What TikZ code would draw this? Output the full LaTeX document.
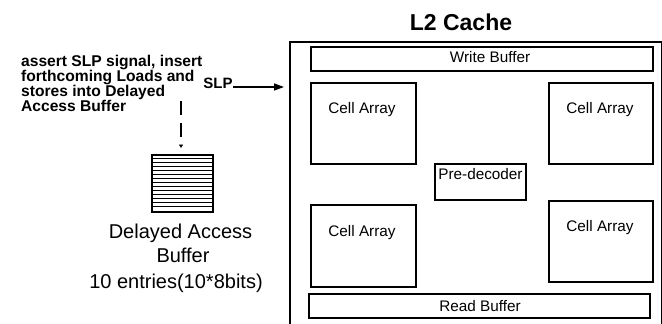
\documentclass[tikz,border=0pt]{standalone}
\usepackage{fontspec}
\setmainfont{Liberation Sans}
\usetikzlibrary{arrows.meta}
\begin{document}
\begin{tikzpicture}[x=1pt,y=-1pt,
  blk/.style={draw,line width=1.5pt,inner sep=0pt,anchor=north west},
  lbl/.style={inner sep=0pt,font=\fontsize{15.3}{18}\selectfont},
  biglbl/.style={inner sep=0pt,font=\fontsize{20}{22}\selectfont},
  boldlbl/.style={inner sep=0pt,font=\bfseries\fontsize{15}{15}\selectfont},
  notelbl/.style={inner sep=0pt,font=\bfseries\fontsize{15.6}{15.1}\selectfont},
  conn/.style={line width=1.4pt}]
\useasboundingbox (0,0) rectangle (662,324);
% title
\node[inner sep=0pt,font=\bfseries\fontsize{23}{26}\selectfont] (title) at (461,22) {L2 Cache};
% outer cache box (runs off the bottom)
\node[blk,minimum width=372pt,minimum height=300pt] (l2) at (289,41) {};
% inner blocks
\node[blk,minimum width=342pt,minimum height=24pt] (wb) at (310,46) {};
\node[lbl] (wbt) at (490,57) {Write Buffer};
\node[blk,minimum width=105pt,minimum height=81pt] (ca1) at (310,82) {};
\node[lbl] (ca1t) at (362,110) {Cell Array};
\node[blk,minimum width=104pt,minimum height=81pt] (ca2) at (548,82) {};
\node[lbl] (ca2t) at (600,110) {Cell Array};
\node[blk,minimum width=91pt,minimum height=36pt] (pd) at (434,163) {};
\node[lbl] (pdt) at (480.5,174) {Pre-decoder};
\node[blk,minimum width=105pt,minimum height=82pt] (ca3) at (310,204) {};
\node[lbl] (ca3t) at (362,233) {Cell Array};
\node[blk,minimum width=104pt,minimum height=81pt] (ca4) at (548,200) {};
\node[lbl] (ca4t) at (600,228) {Cell Array};
\node[blk,minimum width=341pt,minimum height=24pt] (rb) at (308,293) {};
\node[lbl] (rbt) at (480,306) {Read Buffer};
% SLP signal
\node[boldlbl,anchor=base] (slp) at (218,88) {SLP};
\draw[conn,-{Triangle[length=10pt,width=7pt]},shorten >=5pt] ([yshift=1pt]slp.base east) -- ([yshift=1pt]slp.base east -| l2.west);
% note
\node[notelbl,anchor=north west,align=left] (note) at (21,55) {assert SLP signal, insert\\forthcoming Loads and\\stores into Delayed\\Access Buffer};
% delayed access buffer
\node[blk,minimum width=61pt,minimum height=57pt] (dab) at (151,154) {};
\foreach \i in {1,...,13}
  \draw[line width=1pt] ([yshift={-\i*57/14}]dab.north west) -- ([yshift={-\i*57/14}]dab.north east);
\coordinate (dstart) at (181,101);
\draw[conn,dash pattern=on 14pt off 8pt,-{Triangle[length=3.5pt,width=4pt]},shorten >=6pt] (dstart) -- (dstart |- dab.north);
\node[biglbl] (dabt1) at (180.5,233) {Delayed Access};
\node[biglbl] (dabt2) at (183,255) {Buffer};
\node[biglbl] (dabt3) at (176,283) {10 entries(10*8bits)};
\end{tikzpicture}
\end{document}
